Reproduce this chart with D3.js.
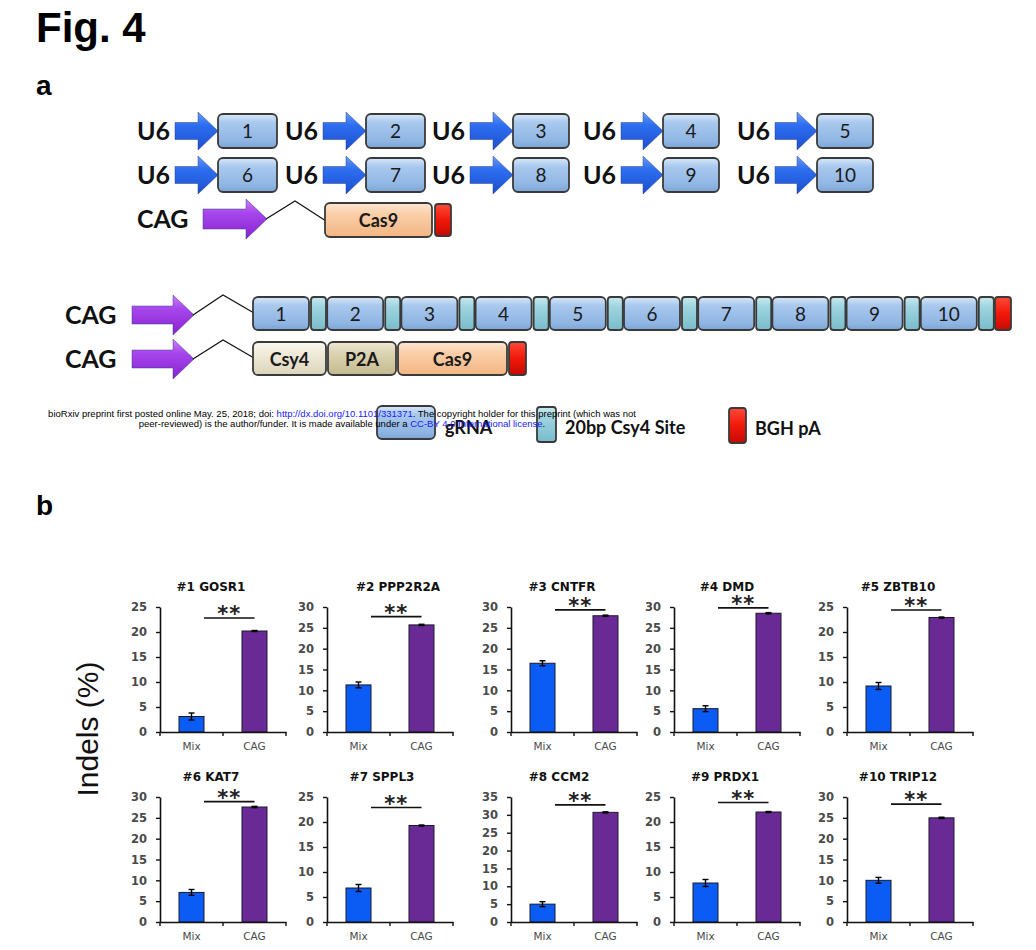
<!DOCTYPE html>
<html>
<head>
<meta charset="utf-8">
<script src="https://cdn.jsdelivr.net/npm/d3@7"></script>
<style>
  body { margin: 0; background: #fff; }
  svg { display: block; }
</style>
</head>
<body>
<svg id="fig" width="1036" height="950"></svg>
<script>
// ---------------- DATA ----------------
const genes = ["#1 GOSR1", "#2 PPP2R2A", "#3 CNTFR", "#4 DMD", "#5 ZBTB10",
               "#6 KAT7", "#7 SPPL3", "#8 CCM2", "#9 PRDX1", "#10 TRIP12"];
const categories = ["Mix", "CAG"];
const mixValues = [3.1, 11.3, 16.5, 5.6, 9.2, 7.1, 6.8, 5.0, 7.8, 10.0];
const mixErr    = [0.7, 0.7, 0.6, 0.7, 0.7, 0.7, 0.7, 0.7, 0.7, 0.7];
const cagValues = [20.2, 25.7, 27.9, 28.5, 22.9, 27.6, 19.3, 30.7, 22.0, 25.0];
const cagErr    = [0.1, 0.15, 0.15, 0.15, 0.1, 0.15, 0.1, 0.15, 0.1, 0.15];
const yMax      = [25, 30, 30, 30, 25, 30, 25, 35, 25, 30];
const sigLevel  = [22.8, 27.7, 29.3, 29.8, 24.4, 28.9, 22.9, 32.8, 23.9, 28.3];
const sigLabel  = "**";
const guideNumbers = ["1","2","3","4","5","6","7","8","9","10"];

// ---------------- LAYOUT ----------------
const svg = d3.select("#fig");
const defs = svg.append("defs");
function grad(id, stops) {
  const g = defs.append("linearGradient").attr("id", id)
    .attr("x1", 0).attr("y1", 0).attr("x2", 0).attr("y2", 1);
  stops.forEach(s => g.append("stop").attr("offset", s[0]).attr("stop-color", s[1]));
}
grad("gBox",   [[0, "#d9e8f8"], [0.25, "#a9c9ee"], [0.8, "#8fb5e3"], [1, "#7ea4d6"]]);
grad("gSite",  [[0, "#c8eaf0"], [0.3, "#9ed4df"], [1, "#79bccb"]]);
grad("gRed",   [[0, "#ff4a3a"], [0.5, "#f01808"], [1, "#c80a02"]]);
grad("gPeach", [[0, "#fde7d2"], [0.3, "#fbd0ab"], [1, "#f3b582"]]);
grad("gCream", [[0, "#fbf9f1"], [0.3, "#f1ecdc"], [1, "#dcd4bb"]]);
grad("gTan",   [[0, "#efe9d3"], [0.3, "#ddd5b5"], [1, "#c4b98e"]]);
grad("gBlueA", [[0, "#6b9cf5"], [0.35, "#2d6ef0"], [1, "#1c4fcf"]]);
grad("gPurpA", [[0, "#d07cf7"], [0.35, "#a646ec"], [1, "#8a22d0"]]);

// Title + panel letters
svg.append("text").attr("x", 36).attr("y", 42)
  .attr("font-family", "Liberation Sans, Arial, sans-serif").attr("font-weight", "bold")
  .attr("font-size", 42).text("Fig. 4");
svg.append("text").attr("x", 36).attr("y", 95)
  .attr("font-family", "Liberation Sans, Arial, sans-serif").attr("font-weight", "bold")
  .attr("font-size", 28).text("a");
svg.append("text").attr("x", 36).attr("y", 515)
  .attr("font-family", "Liberation Sans, Arial, sans-serif").attr("font-weight", "bold")
  .attr("font-size", 28).text("b");

const labFont = "Lato, 'Open Sans', sans-serif";

function box(g, x, y, w, h, fill, label, opts = {}) {
  g.append("rect").attr("x", x).attr("y", y).attr("width", w).attr("height", h)
    .attr("rx", opts.rx ?? 5).attr("fill", `url(#${fill})`)
    .attr("stroke", "#3a3a3a").attr("stroke-width", 1.8);
  if (label) {
    g.append("text").attr("x", x + w / 2).attr("y", y + h / 2 + (opts.dy ?? 7))
      .attr("text-anchor", "middle").attr("font-family", labFont)
      .attr("font-weight", opts.bold ? "bold" : "normal")
      .attr("font-size", opts.size ?? 19).attr("fill", "#1a1a1a").text(label);
  }
}
function arrow(g, x0, xh, xt, cy, bodyH, headH, fill) {
  const p = d3.path();
  p.moveTo(x0, cy - bodyH / 2); p.lineTo(xh, cy - bodyH / 2); p.lineTo(xh, cy - headH / 2);
  p.lineTo(xt, cy); p.lineTo(xh, cy + headH / 2); p.lineTo(xh, cy + bodyH / 2);
  p.lineTo(x0, cy + bodyH / 2); p.closePath();
  g.append("path").attr("d", p.toString()).attr("fill", `url(#${fill})`)
    .attr("stroke", "#2b3f80").attr("stroke-width", 0.8).attr("stroke-opacity", 0.6);
}
function bigLabel(g, x, cy, t) {
  g.append("text").attr("x", x).attr("y", cy + 9).attr("font-family", labFont)
    .attr("font-weight", "bold").attr("font-size", 25).attr("fill", "#111").text(t);
}
function hinge(g, x0, y0, xp, yp, x1, y1) {
  g.append("path").attr("d", d3.line()([[x0, y0], [xp, yp], [x1, y1]]))
    .attr("fill", "none").attr("stroke", "#111").attr("stroke-width", 1.2);
}

// ---- Part a: individual U6 cassettes ----
const A = svg.append("g");
const u6TextX = [137, 285, 432, 583, 737];
const u6BoxX  = [218, 366, 513, 663, 817];
const u6BoxW  = [59, 59, 56, 56, 56];
const rowCY = [131, 175];
[0, 1].forEach(r => {
  u6BoxX.forEach((bx, c) => {
    const cy = rowCY[r];
    bigLabel(A, u6TextX[c], cy, "U6");
    arrow(A, u6TextX[c] + 38, bx - 20, bx, cy, 17, 38, "gBlueA");
    box(A, bx, cy - 17, u6BoxW[c], 34, "gBox", guideNumbers[r * 5 + c], { size: 19 });
  });
});
// CAG - Cas9 - pA
bigLabel(A, 137, 219, "CAG");
arrow(A, 203, 246, 267, 219, 20, 40, "gPurpA");
hinge(A, 266, 219, 295, 201, 326, 221);
box(A, 325, 203, 107, 34, "gPeach", "Cas9", { bold: true, size: 18 });
box(A, 435, 204, 16, 32, "gRed", null, { rx: 3 });

// ---- Part a: array cassette ----
bigLabel(A, 65, 315, "CAG");
arrow(A, 132, 173, 194, 315, 18, 40, "gPurpA");
hinge(A, 193, 315, 223, 295, 254, 313);
const arrX = d3.scaleLinear().domain([0, 10]).range([253, 995]);
guideNumbers.forEach((n, i) => {
  box(A, arrX(i), 297, 56, 33, "gBox", n, { size: 19 });
  box(A, arrX(i) + 58, 297, 15, 33, "gSite", null, { rx: 3 });
});
box(A, arrX(10), 297, 16, 33, "gRed", null, { rx: 3 });

bigLabel(A, 65, 359, "CAG");
arrow(A, 132, 173, 194, 359, 18, 40, "gPurpA");
hinge(A, 193, 359, 223, 340, 254, 358);
box(A, 253, 342, 73, 33, "gCream", "Csy4", { bold: true, size: 18 });
box(A, 328, 342, 68, 33, "gTan", "P2A", { bold: true, size: 18 });
box(A, 398, 342, 109, 33, "gPeach", "Cas9", { bold: true, size: 18 });
box(A, 509, 342, 17, 33, "gRed", null, { rx: 3 });

// legend
box(A, 377, 406, 58, 33, "gBox", null);
A.append("text").attr("x", 445).attr("y", 434).attr("font-family", labFont)
  .attr("font-weight", "bold").attr("font-size", 18).attr("fill", "#111").text("gRNA");
box(A, 537, 407, 19, 35, "gSite", null, { rx: 3 });
A.append("text").attr("x", 565).attr("y", 434).attr("font-family", labFont)
  .attr("font-weight", "bold").attr("font-size", 18).attr("fill", "#111").text("20bp Csy4 Site");
box(A, 729, 408, 17, 35, "gRed", null, { rx: 3 });
A.append("text").attr("x", 755).attr("y", 435).attr("font-family", labFont)
  .attr("font-weight", "bold").attr("font-size", 18).attr("fill", "#111").text("BGH pA");

// preprint notice overlay
const note = svg.append("g").attr("font-family", "Liberation Sans, Arial, sans-serif")
  .attr("font-size", 9.5).attr("text-anchor", "middle");
const l1 = note.append("text").attr("x", 342).attr("y", 417);
l1.append("tspan").text("bioRxiv preprint first posted online May. 25, 2018; doi: ");
l1.append("tspan").attr("fill", "#1a1aff").text("http://dx.doi.org/10.1101/331371");
l1.append("tspan").text(". The copyright holder for this preprint (which was not");
const l2 = note.append("text").attr("x", 342).attr("y", 427);
l2.append("tspan").text("peer-reviewed) is the author/funder. It is made available under a ");
l2.append("tspan").attr("fill", "#1a1aff").text("CC-BY 4.0 International license");
l2.append("tspan").text(".");

// ---------------- Part b: bar charts ----------------
const panelX = [160, 327, 511, 674, 847];
const rowBase = [732, 922];
const titleDx = [0, 20, 0, 2, 0, 0, 4, -3, 0, 0];
const PH = 125, PW = 126;
const tickFont = "'DejaVu Sans', Verdana, sans-serif";

genes.forEach((gene, i) => {
  const row = Math.floor(i / 5), col = i % 5;
  const g = svg.append("g").attr("transform", `translate(${panelX[col]},${rowBase[row] - PH})`);
  const y = d3.scaleLinear().domain([0, yMax[i]]).range([PH, 0]);
  const x = d3.scaleBand().domain(categories).range([0, PW]).paddingInner(0.603).paddingOuter(0.3016);
  const bw = x.bandwidth();
  const vals = [mixValues[i], cagValues[i]];
  const errs = [mixErr[i], cagErr[i]];

  // bars
  g.selectAll("rect.bar").data(categories).join("rect").attr("class", "bar")
    .attr("x", d => x(d)).attr("width", bw)
    .attr("y", (d, k) => y(vals[k])).attr("height", (d, k) => PH - y(vals[k]))
    .attr("fill", (d, k) => k === 0 ? "#0a5cf5" : "#6a2a95")
    .attr("stroke", "#1a1a2a").attr("stroke-width", 1);
  // error bars
  categories.forEach((c, k) => {
    const cx = x(c) + bw / 2;
    const e = g.append("g").attr("stroke", "#000").attr("stroke-width", 1.4);
    e.append("line").attr("x1", cx).attr("x2", cx).attr("y1", y(vals[k] + errs[k])).attr("y2", y(vals[k] - errs[k]));
    e.append("line").attr("x1", cx - 3).attr("x2", cx + 3).attr("y1", y(vals[k] + errs[k])).attr("y2", y(vals[k] + errs[k]));
    e.append("line").attr("x1", cx - 3).attr("x2", cx + 3).attr("y1", y(vals[k] - errs[k])).attr("y2", y(vals[k] - errs[k]));
  });

  // y axis
  const ya = g.append("g").call(d3.axisLeft(y).tickValues(d3.range(0, yMax[i] + 0.1, 5))
      .tickSize(4).tickPadding(9).tickSizeOuter(0));
  ya.select(".domain").attr("stroke", "#111").attr("stroke-width", 1.6);
  ya.selectAll(".tick line").attr("stroke", "#111").attr("stroke-width", 1.4);
  ya.selectAll(".tick text").attr("font-family", tickFont).attr("font-size", 11.5)
    .attr("font-weight", "bold").attr("fill", "#4a4a4a");

  // x axis
  const xa = g.append("g").attr("transform", `translate(0,${PH})`)
    .call(d3.axisBottom(x).tickSize(0).tickPadding(9).tickSizeOuter(0));
  xa.select(".domain").attr("stroke", "#111").attr("stroke-width", 1.6);
  xa.selectAll(".tick text").attr("font-family", tickFont).attr("font-size", 10.5)
    .attr("fill", "#4a4a4a").attr("dy", "0.9em");
  [0, 1, 2].forEach(k => {
    const tx = k * x.step();
    xa.append("line").attr("x1", tx).attr("x2", tx).attr("y1", 0).attr("y2", 4)
      .attr("stroke", "#111").attr("stroke-width", 1.4);
  });

  // significance
  const sy = y(sigLevel[i]);
  g.append("line").attr("x1", x("Mix") + bw).attr("x2", x("CAG") + bw / 2)
    .attr("y1", sy).attr("y2", sy).attr("stroke", "#111").attr("stroke-width", 1.6);
  g.append("text").attr("x", (x("Mix") + bw + x("CAG") + bw / 2) / 2).attr("y", sy + 3)
    .attr("text-anchor", "middle").attr("font-family", "'DejaVu Sans', sans-serif").attr("font-weight", "bold")
    .attr("font-size", 21).attr("letter-spacing", 1).attr("fill", "#222").text(sigLabel);

  // title
  g.append("text").attr("x", 51 + titleDx[i]).attr("y", -16).attr("text-anchor", "middle")
    .attr("font-family", tickFont).attr("font-weight", "bold").attr("font-size", 12)
    .attr("fill", "#111").text(gene);
});

// y-axis label
svg.append("text").attr("transform", "translate(98,729) rotate(-90)")
  .attr("text-anchor", "middle").attr("font-family", "Liberation Sans, Arial, sans-serif")
  .attr("font-size", 30).attr("fill", "#111").text("Indels (%)");
</script>
</body>
</html>
